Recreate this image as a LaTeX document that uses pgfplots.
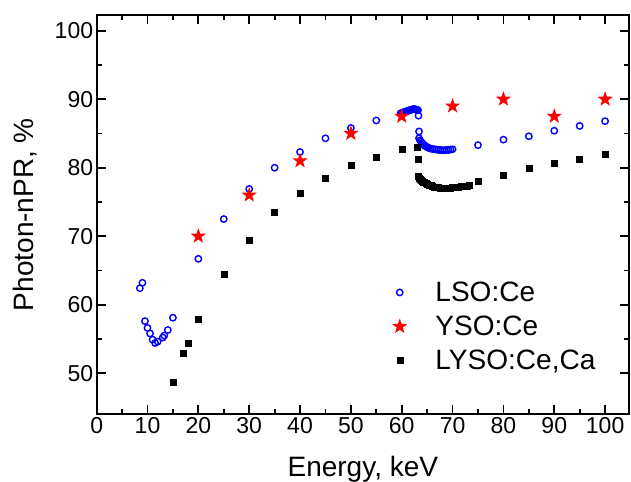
\documentclass[border=0pt]{standalone}
\usepackage{fontspec}
\setmainfont{Liberation Sans}
\usepackage{pgfplots}
\pgfplotsset{compat=1.18}

\pgfdeclareplotmark{fstar}{%
  \pgfpathmoveto{\pgfpointpolar{90}{\pgfplotmarksize}}%
  \pgfpathlineto{\pgfpointpolar{126}{0.4\pgfplotmarksize}}%
  \pgfpathlineto{\pgfpointpolar{162}{\pgfplotmarksize}}%
  \pgfpathlineto{\pgfpointpolar{198}{0.4\pgfplotmarksize}}%
  \pgfpathlineto{\pgfpointpolar{234}{\pgfplotmarksize}}%
  \pgfpathlineto{\pgfpointpolar{270}{0.4\pgfplotmarksize}}%
  \pgfpathlineto{\pgfpointpolar{306}{\pgfplotmarksize}}%
  \pgfpathlineto{\pgfpointpolar{342}{0.4\pgfplotmarksize}}%
  \pgfpathlineto{\pgfpointpolar{18}{\pgfplotmarksize}}%
  \pgfpathlineto{\pgfpointpolar{54}{0.4\pgfplotmarksize}}%
  \pgfpathclose
  \pgfusepathqfill}

\definecolor{myblue}{RGB}{0,0,255}
\definecolor{myred}{RGB}{255,0,0}

\begin{document}
\begin{tikzpicture}
\begin{axis}[name=ax, scale only axis, width=532pt, height=399pt,
  xmin=0, xmax=104.7, ymin=44, ymax=102.3,
  xtick={0,10,...,100}, ytick={50,60,...,100},
  minor x tick num=1, minor y tick num=1,
  tick align=inside,
  major tick length=9pt, minor tick length=5pt,
  axis line style={line width=2pt},
  tick style={black, line width=1.8pt},
  tick label style={font=\fontsize{23}{27}\selectfont},
  /pgf/number format/assume math mode=true,
  label style={font=\fontsize{28}{33}\selectfont},
  xlabel={Energy, keV}, ylabel={Photon-nPR, \%},
  xlabel style={at={(axis description cs:0.5,-0.155)}, anchor=base},
  ylabel style={at={(axis description cs:-0.1195,0.5)}, anchor=base},
  legend cell align=left,
  legend image code/.code={\path (0pt,-5pt) (42pt,5pt); \draw[only marks,#1] plot coordinates {(8.5pt,0pt)};},
  legend style={at={(axis description cs:0.547,0.342)}, anchor=north west,
    draw=none, fill=none, font=\fontsize{28}{33}\selectfont,
    nodes={inner sep=2pt}, row sep=9pt},
]
\addplot[only marks, mark=o, mark size=3.2pt, myblue, mark options={line width=1.4pt}] table {
x y
8.5 62.4
9.0 63.2
9.5 57.6
10.0 56.6
10.5 55.8
11.0 54.9
11.5 54.4
12.0 54.6
13.0 55.2
13.3 55.5
14.0 56.3
15.0 58.1
20 66.7
25 72.5
30 76.9
35 80.0
40 82.3
45 84.3
50 85.8
55 86.9
59.8 87.95
60.0 88.0
60.2 88.05
60.4 88.1
60.6 88.15
60.8 88.2
61.0 88.25
61.2 88.3
61.4 88.35
61.6 88.4
61.8 88.45
62.0 88.5
62.2 88.55
62.4 88.55
62.6 88.55
62.8 88.5
63.0 88.45
63.2 88.4
63.3 87.6
63.4 85.3
63.4 84.3
63.6 84.0
63.8 83.8
64.0 83.6
64.2 83.45
64.4 83.3
64.6 83.2
64.8 83.1
65.0 83.0
65.3 82.9
65.6 82.8
66.0 82.75
66.4 82.7
66.8 82.65
67.2 82.6
67.6 82.6
68.0 82.55
68.4 82.55
68.8 82.6
69.2 82.6
69.6 82.65
70.0 82.7
75 83.3
80 84.1
85 84.6
90 85.4
95 86.1
100 86.8
};
\addlegendentry{LSO:Ce}
\addplot[only marks, mark=fstar, mark size=8pt, myred] table {
x y
20 70
30 76
40 81
50 85
60 87.5
70 89
80 90
90 87.5
100 90
};
\addlegendentry{YSO:Ce}
\addplot[only marks, mark=square*, mark size=3pt, black] table {
x y
15 48.7
17 52.9
18 54.4
20 57.9
25 64.4
30 69.4
35 73.5
40 76.3
45 78.5
50 80.3
55 81.5
60 82.7
63.1 83.0
63.3 81.2
63.3 78.7
63.5 78.5
63.7 78.35
63.9 78.2
64.1 78.05
64.3 77.95
64.5 77.85
64.8 77.7
65.1 77.6
65.4 77.5
65.7 77.4
66.0 77.3
66.4 77.2
66.8 77.15
67.2 77.1
67.6 77.05
68.0 77.0
68.4 77.0
68.8 77.0
69.2 77.05
69.6 77.05
70.0 77.1
70.4 77.15
70.8 77.2
71.2 77.2
71.6 77.25
72.0 77.3
72.4 77.3
72.8 77.35
73.2 77.4
75 78.1
80 78.9
85 80.0
90 80.6
95 81.3
100 82.0
};
\addlegendentry{LYSO:Ce,Ca}
\end{axis}
\pgfresetboundingbox
\useasboundingbox ([shift={(-96.6pt,-67pt)}]ax.south west) rectangle ([shift={(2pt,15pt)}]ax.north east);
\end{tikzpicture}
\end{document}
